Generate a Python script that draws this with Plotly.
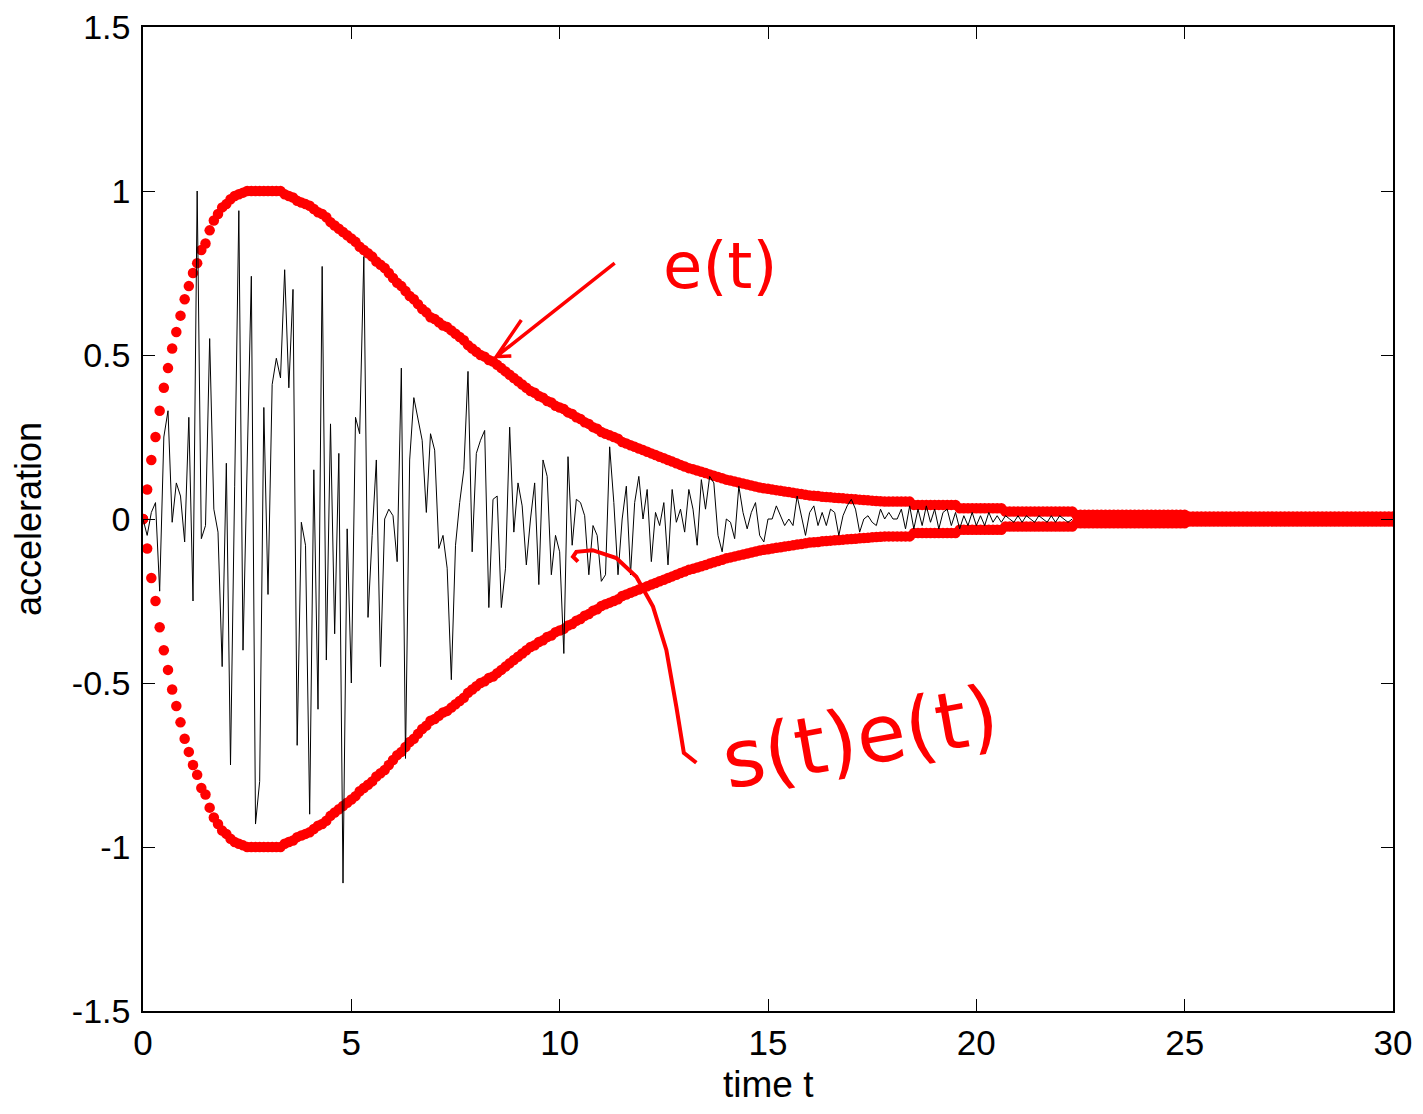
import numpy as np
import plotly.graph_objects as go

# ---------------- data ----------------
dt = 0.1
envelope = [
    0.00, 0.09, 0.18, 0.25, 0.33, 0.40, 0.46, 0.52, 0.57, 0.62,
    0.67, 0.71, 0.75, 0.78, 0.82, 0.84, 0.88, 0.91, 0.93, 0.95,
    0.96, 0.975, 0.985, 0.99, 0.995, 1.0, 1.0, 1.0, 1.0, 1.0,
    1.0, 1.0, 1.0, 1.0, 0.99, 0.985, 0.98, 0.97, 0.965, 0.96,
    0.955, 0.945, 0.935, 0.93, 0.92, 0.905, 0.895, 0.885, 0.875, 0.865,
    0.855, 0.845, 0.83, 0.82, 0.81, 0.80, 0.785, 0.775, 0.765, 0.75,
    0.735, 0.72, 0.71, 0.695, 0.68, 0.67, 0.655, 0.64, 0.63, 0.615,
    0.61, 0.60, 0.59, 0.585, 0.575, 0.565, 0.555, 0.545, 0.53, 0.52,
    0.51, 0.50, 0.495, 0.485, 0.48, 0.47, 0.46, 0.45, 0.44, 0.43,
    0.42, 0.41, 0.40, 0.39, 0.385, 0.375, 0.37, 0.36, 0.355, 0.345,
    0.34, 0.335, 0.325, 0.32, 0.31, 0.305, 0.295, 0.29, 0.28, 0.275,
    0.265, 0.26, 0.255, 0.25, 0.245, 0.235, 0.23, 0.225, 0.22, 0.215,
    0.21, 0.205, 0.20, 0.195, 0.19, 0.185, 0.18, 0.175, 0.17, 0.165,
    0.16, 0.155, 0.152, 0.148, 0.144, 0.14, 0.136, 0.132, 0.128, 0.124,
    0.12, 0.117, 0.114, 0.111, 0.108, 0.105, 0.102, 0.099, 0.096, 0.094,
    0.092, 0.09, 0.088, 0.086, 0.084, 0.082, 0.08, 0.078, 0.076, 0.074,
    0.072, 0.071, 0.07, 0.068, 0.067, 0.066, 0.065, 0.064, 0.063, 0.062,
    0.061, 0.060, 0.059, 0.058, 0.057, 0.056, 0.055, 0.054, 0.053, 0.053,
    0.053, 0.053, 0.053, 0.053, 0.053, 0.043, 0.043, 0.043, 0.043, 0.043,
    0.043, 0.043, 0.043, 0.043, 0.043, 0.043, 0.033, 0.033, 0.033, 0.033,
    0.033, 0.033, 0.033, 0.033, 0.033, 0.033, 0.033, 0.023, 0.023, 0.023,
    0.023, 0.023, 0.023, 0.023, 0.023, 0.023, 0.023, 0.023, 0.023, 0.023,
    0.023, 0.023, 0.023, 0.023, 0.013, 0.013, 0.013, 0.013, 0.013, 0.013,
    0.013, 0.013, 0.013, 0.013, 0.013, 0.013, 0.013, 0.013, 0.013, 0.013,
    0.013, 0.013, 0.013, 0.013, 0.013, 0.013, 0.013, 0.013, 0.013, 0.013,
    0.013, 0.008, 0.008, 0.008, 0.008, 0.008, 0.008, 0.008, 0.008, 0.008,
    0.008, 0.008, 0.008, 0.008, 0.008, 0.008, 0.008, 0.008, 0.008, 0.008,
    0.008, 0.008, 0.008, 0.008, 0.008, 0.008, 0.008, 0.008, 0.008, 0.008,
    0.008, 0.008, 0.008, 0.008, 0.008, 0.008, 0.008, 0.008, 0.008, 0.008,
    0.008, 0.008, 0.008, 0.008, 0.008, 0.008, 0.008, 0.008, 0.008, 0.008,
    0.008,
]

signal = [
    0.00, -0.05, 0.02, 0.05, -0.22, 0.25, 0.33, -0.01, 0.11, 0.07,
    -0.07, 0.31, -0.25, 1.00, -0.06, -0.02, 0.55, 0.03, -0.04, -0.45,
    0.17, -0.75, 0.10, 0.94, -0.40, 0.20, 0.74, -0.93, -0.80, 0.34,
    -0.23, 0.41, 0.49, 0.43, 0.76, 0.40, 0.70, -0.69, -0.01, -0.08,
    -0.90, 0.15, -0.58, 0.77, -0.43, 0.29, -0.35, 0.20, -1.11, -0.03,
    -0.50, 0.31, 0.26, 0.80, -0.30, -0.05, 0.18, -0.45, 0.00, 0.03,
    0.01, -0.13, 0.46, -0.73, 0.18, 0.37, 0.31, 0.24, 0.02, 0.26,
    0.21, -0.09, -0.05, -0.15, -0.49, -0.08, 0.05, 0.15, 0.45, -0.10,
    0.20, 0.24, 0.27, -0.27, 0.06, 0.07, -0.27, -0.15, 0.28, -0.04,
    0.11, 0.04, -0.14, 0.00, 0.11, -0.20, 0.18, 0.13, -0.17, -0.05,
    -0.10, -0.41, 0.19, -0.08, 0.06, 0.05, 0.01, -0.17, -0.02, -0.05,
    -0.19, -0.17, 0.22, 0.05, -0.17, 0.00, 0.10, -0.17, 0.05, 0.13,
    0.00, 0.09, -0.13, 0.02, -0.02, 0.05, -0.14, 0.09, -0.01, 0.03,
    -0.04, 0.09, 0.03, -0.08, 0.12, 0.03, 0.13, 0.11, -0.05, -0.10,
    0.00, -0.01, -0.06, 0.10, 0.02, -0.03, 0.02, 0.05, -0.05, -0.07,
    0.00, 0.00, 0.04, 0.01, -0.02, 0.00, -0.02, 0.07, 0.01, -0.05,
    0.02, 0.04, -0.02, 0.02, -0.02, 0.03, 0.02, -0.05, 0.01, 0.04,
    0.06, 0.03, -0.04, 0.00, 0.01, -0.01, -0.02, 0.03, 0.00, 0.02,
    0.00, 0.00, 0.03, -0.03, 0.04, -0.03, 0.03, -0.02, 0.04, -0.01,
    0.03, -0.03, 0.02, 0.03, -0.02, 0.02, -0.03, 0.01, -0.02, 0.02,
    -0.02, 0.01, -0.02, 0.02, -0.01, 0.01, -0.01, 0.01, 0.00, -0.01,
    0.01, -0.01, 0.01, 0.00, -0.01, 0.01, 0.00, -0.01, 0.01, -0.01,
    0.01, 0.00, -0.01, 0.00,
]

x_ticks = [0, 5, 10, 15, 20, 25, 30]
x_tick_labels = ["0", "5", "10", "15", "20", "25", "30"]
y_ticks = [-1.5, -1, -0.5, 0, 0.5, 1, 1.5]
y_tick_labels = ["-1.5", "-1", "-0.5", "0", "0.5", "1", "1.5"]
x_title = "time t"
y_title = "acceleration"

t_env = np.round(np.arange(len(envelope)) * dt, 1)
t_sig = np.round(np.arange(len(signal)) * dt, 1)
env_upper = np.array(envelope)
env_lower = -env_upper

RED = "#ff0000"

fig = go.Figure()
fig.add_trace(go.Scatter(x=t_env, y=env_upper, mode="markers",
                         marker=dict(color=RED, size=10.5, line=dict(width=0)),
                         showlegend=False))
fig.add_trace(go.Scatter(x=t_env, y=env_lower, mode="markers",
                         marker=dict(color=RED, size=10.5, line=dict(width=0)),
                         showlegend=False))
fig.add_trace(go.Scatter(x=t_sig, y=signal, mode="lines",
                         line=dict(color="black", width=1),
                         showlegend=False))

axis_font = "Liberation Sans, Arial, Helvetica, sans-serif"

fig.update_xaxes(range=[0, 30], tickvals=x_ticks, ticktext=x_tick_labels,
                 ticks="inside", ticklen=12, tickwidth=1, tickcolor="black",
                 showline=True, linecolor="black", linewidth=1.5, mirror="ticks",
                 showgrid=False, zeroline=False, automargin=False,
                 ticklabeloverflow="allow",
                 tickfont=dict(family=axis_font, size=35, color="black"),
                 ticklabelstandoff=0)
fig.update_yaxes(range=[-1.5, 1.5], tickvals=y_ticks, ticktext=y_tick_labels,
                 ticks="inside", ticklen=12, tickwidth=1, tickcolor="black",
                 showline=True, linecolor="black", linewidth=1.5, mirror="ticks",
                 showgrid=False, zeroline=False, automargin=False,
                 ticklabeloverflow="allow",
                 tickfont=dict(family=axis_font, size=34, color="black"),
                 ticklabelstandoff=4)

# axis titles (placed in the margins)
fig.add_annotation(x=0.5, y=-0.0965, xref="paper", yref="paper", text=x_title,
                   showarrow=False, xanchor="center", yanchor="bottom", borderpad=0,
                   font=dict(family=axis_font, size=37, color="black"))
fig.add_annotation(x=-0.092, y=0.5, xref="paper", yref="paper", text=y_title,
                   showarrow=False, xanchor="center", yanchor="middle", textangle=-90,
                   font=dict(family=axis_font, size=36, color="black"))

hand_font = "DejaVu Sans, sans-serif"
fig.add_annotation(x=13.85, y=0.77, xref="x", yref="y", text="e(t)", showarrow=False,
                   font=dict(family=hand_font, size=64, color=RED))
fig.add_annotation(x=17.2, y=-0.665, xref="x", yref="y", text="s(t)e(t)", showarrow=False,
                   textangle=-10, font=dict(family=hand_font, size=80, color=RED))

# hand-drawn arrow for e(t)
fig.add_shape(type="path", xref="x", yref="y",
              path="M 11.32,0.780 L 8.48,0.495 M 9.08,0.607 L 8.48,0.495 L 8.84,0.497",
              line=dict(color=RED, width=3.5))
# hand-drawn curve for s(t)e(t)
fig.add_shape(type="path", xref="x", yref="y",
              path=("M 13.28,-0.743 L 12.98,-0.713 L 12.80,-0.572 L 12.56,-0.399 "
                    "L 12.24,-0.267 L 11.84,-0.176 L 11.36,-0.119 L 10.79,-0.095 "
                    "L 10.40,-0.100 L 10.32,-0.115 L 10.44,-0.130"),
              line=dict(color=RED, width=4))

fig.update_layout(width=1407, height=1098,
                  margin=dict(l=135, r=22, t=19, b=95),
                  paper_bgcolor="white", plot_bgcolor="white",
                  font=dict(family=axis_font, color="black"))

fig.write_html("out.html")
